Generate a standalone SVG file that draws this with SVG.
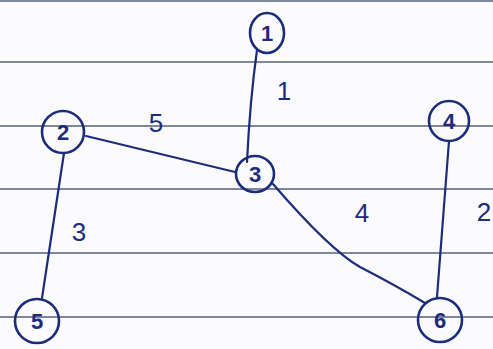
<svg xmlns="http://www.w3.org/2000/svg" width="493" height="349" viewBox="0 0 493 349">
<style>
.rule{stroke:#56617e;stroke-width:1.6;fill:none}
.node ellipse{fill:none;stroke:#1d2c7a;stroke-width:2.6}
.node text,.lbl{font-family:"Liberation Sans",Arial,sans-serif;fill:#1d2c7a;text-anchor:middle}
.node text{font-size:22px;font-weight:bold}
.lbl{font-size:26px}
.edge{stroke:#1d2c7a;stroke-width:2.2;fill:none;stroke-linecap:round}
</style>
<rect width="493" height="349" fill="#fbfbfd"/>
<g id="paper">
<line class="rule" x1="0" y1="1" x2="493" y2="1"/>
<line class="rule" x1="0" y1="62" x2="493" y2="62"/>
<line class="rule" x1="0" y1="126" x2="493" y2="126"/>
<line class="rule" x1="0" y1="189" x2="493" y2="189"/>
<line class="rule" x1="0" y1="253" x2="493" y2="253"/>
<line class="rule" x1="0" y1="317" x2="493" y2="317"/>
</g>
<g id="connectors">
<path class="edge" d="M257,50 Q250,100 247,162"/>
<path class="edge" d="M86,136 L235,172"/>
<path class="edge" d="M64,153 L42,298"/>
<path class="edge" d="M273,184 Q330,250 360,267 Q395,285 425,303"/>
<path class="edge" d="M449,141 L437,297"/>
</g>
<g id="labels">
<text class="lbl" x="284" y="100">1</text>
<text class="lbl" x="156" y="132">5</text>
<text class="lbl" x="362" y="222">4</text>
<text class="lbl" x="484" y="221">2</text>
<text class="lbl" x="79" y="241">3</text>
</g>
<g id="node1" class="node"><ellipse cx="267" cy="33" rx="17" ry="20"/><text x="267" y="41">1</text></g>
<g id="node2" class="node"><ellipse cx="63" cy="132" rx="21" ry="21"/><text x="63" y="140">2</text></g>
<g id="node3" class="node"><ellipse cx="255" cy="174" rx="19" ry="18"/><text x="255" y="182">3</text></g>
<g id="node4" class="node"><ellipse cx="449" cy="121" rx="20" ry="20"/><text x="449" y="129">4</text></g>
<g id="node5" class="node"><ellipse cx="37" cy="321" rx="22" ry="22"/><text x="37" y="329">5</text></g>
<g id="node6" class="node"><ellipse cx="440" cy="320" rx="22" ry="22"/><text x="440" y="328">6</text></g>
</svg>
